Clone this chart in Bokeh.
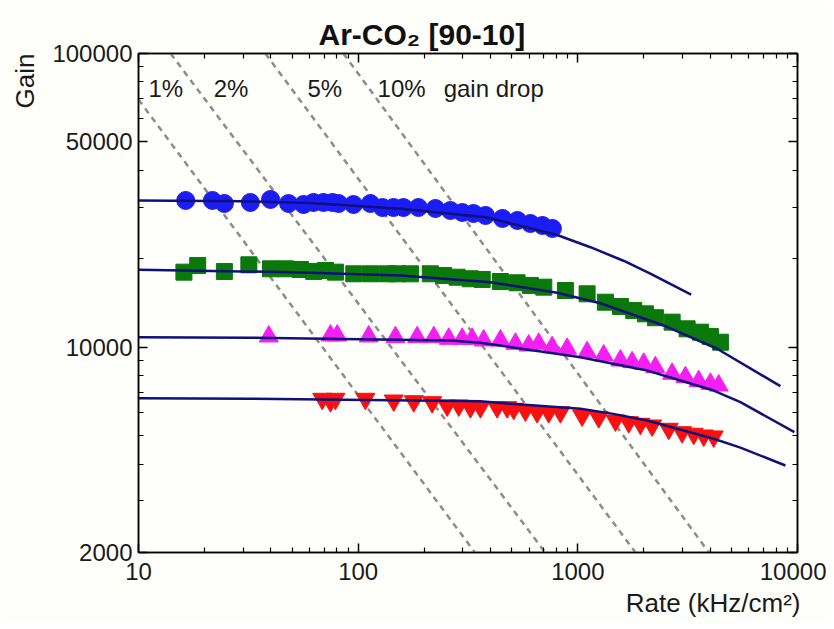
from bokeh.plotting import figure
from bokeh.models import LogAxis, FixedTicker, PrintfTickFormatter, Label, Range1d, Title
from bokeh.embed import file_html
from bokeh.resources import INLINE

FONT = "Liberation Sans"
BG = "#fefefb"

# ---------------- data ----------------
rate_ticks = [10, 100, 1000, 10000]
rate_minor = [20, 30, 40, 50, 60, 70, 80, 90, 200, 300, 400, 500, 600, 700, 800, 900,
              2000, 3000, 4000, 5000, 6000, 7000, 8000, 9000]
gain_ticks = [2000, 10000, 50000, 100000]
gain_minor = [3000, 4000, 5000, 6000, 7000, 8000, 9000, 20000, 30000, 40000,
              60000, 70000, 80000, 90000]

blue_rate = [16.4, 21.7, 24.6, 32.3, 39.9, 48.2, 56.4, 62.6, 69.5, 76.4, 81.4, 95.2, 113.7,
             129, 144.8, 160.8, 188, 224.8, 263, 298, 335, 380, 454, 531, 608, 690, 766]
blue_gain = [31600, 31600, 30850, 31100, 31840, 30850, 30610, 31100, 31100, 31100, 30850, 30610, 30850,
             29900, 29900, 29900, 29900, 29670, 29210, 28750, 28530, 28090, 27440, 27010, 26380, 25970, 25370]

green_rate = [16.1, 18.6, 24.6, 31.8, 39.9, 46.7, 54.6, 62.8, 71.0, 78.8, 95.5, 113.8, 135.5, 150.5,
              173, 213, 245, 282, 324, 367, 444, 529, 608, 700, 878, 1102, 1335, 1563, 1797, 2031,
              2255, 2687, 3144, 3614, 4013, 4458]
green_gain = [18010, 18980, 18110, 19080, 18490, 18490, 18390, 18110, 18250, 18010, 17780, 17780, 17780,
              17780, 17780, 17780, 17540, 17310, 17100, 17010, 16740, 16570, 16230, 16010, 15600, 15200,
              14230, 13760, 13340, 12990, 12600, 12170, 11550, 11250, 10880, 10400]

magenta_rate = [39.2, 74.8, 80.3, 111.7, 147.8, 185.6, 220.9, 258.4, 297.5, 330.2, 372.9, 444.4, 520,
                597.6, 663.7, 763.8, 894, 1102, 1312, 1563, 1767, 1995, 2255, 2687, 3089, 3550, 4013, 4379]
magenta_gain = [10880, 10960, 10960, 10880, 10820, 10820, 10820, 10680, 10680, 10680, 10540, 10540, 10270,
                10130, 10270, 10000, 9876, 9616, 9371, 9010, 8892, 8782, 8551, 8118, 7906, 7662, 7506, 7406]

red_rate = [68.6, 74.8, 78.8, 107.9, 145.2, 179.1, 217.2, 254.1, 287.1, 324.4, 360.3, 429.3, 476.7,
            510.7, 577.3, 652.7, 737.1, 833.3, 1046, 1245, 1483, 1705, 1927, 2179, 2593, 2983, 3370,
            3743, 4155]
red_gain = [6674, 6550, 6674, 6674, 6585, 6550, 6499, 6333, 6333, 6249, 6249, 6249, 6249,
            6171, 6088, 6009, 6009, 6009, 5855, 5777, 5630, 5556, 5487, 5414, 5276, 5136, 5073,
            5006, 4967]

# fitted curves
blue_fit_rate = [10, 30, 60, 156, 380, 805, 1141, 1613, 2138, 3280]
blue_fit_gain = [31600, 31400, 31000, 29600, 27700, 24100, 21900, 19700, 17800, 15100]
green_fit_rate = [10, 50, 156, 400, 805, 1267, 2460, 4305, 8360]
green_fit_gain = [18350, 18000, 17540, 16650, 15320, 14120, 11860, 9880, 7370]
magenta_fit_rate = [10, 32.3, 263, 360, 1028, 2068, 4155, 5497, 9680]
magenta_fit_gain = [10820, 10770, 10540, 10350, 9250, 8330, 7120, 6500, 5140]
red_fit_rate = [10, 32.3, 360, 494, 1028, 1450, 2068, 4155, 5497, 8809]
red_fit_gain = [6705, 6674, 6550, 6418, 6171, 5930, 5630, 4878, 4550, 3957]

# constant gain-drop lines (gain x rate = const)
drop_labels = ["1%", "2%", "5%", "10%"]
drop_rate = [[10, 340], [14.0, 710], [37.8, 1830], [85.7, 3950]]
drop_gain = [[69700, 2000], [100000, 2000], [100000, 2000], [100000, 2000]]
drop_label_rate = [11.1, 22.0, 58.8, 122.6]
drop_text_rate = 245
drop_text_gain = 76000

# ---------------- figure ----------------
p = figure(x_axis_type="log", y_axis_type="log",
           x_range=Range1d(10, 10000), y_range=Range1d(2000, 100000),
           frame_width=659, frame_height=499,
           min_border_left=138, min_border_right=29, min_border_top=53, min_border_bottom=69,
           output_backend="svg", toolbar_location=None,
           background_fill_color=BG, border_fill_color=BG)
p.grid.visible = False
p.outline_line_color = "black"
p.outline_line_width = 1.5


def style(ax, ticks, minor, labels=True, standoff=7):
    ax.ticker = FixedTicker(ticks=ticks, minor_ticks=minor)
    ax.formatter = PrintfTickFormatter(format="%d")
    ax.major_tick_in = 9
    ax.major_tick_out = 0
    ax.minor_tick_in = 5
    ax.minor_tick_out = 0
    ax.axis_line_color = "black"
    ax.axis_line_width = 1.5
    ax.major_tick_line_color = "black"
    ax.major_tick_line_width = 1.5
    ax.minor_tick_line_color = "black"
    ax.minor_tick_line_width = 1.2
    ax.major_label_text_font = FONT
    if labels:
        ax.major_label_text_font_size = "24px"
        ax.major_label_text_color = "#1a1a1a"
        ax.major_label_standoff = standoff
    else:
        ax.major_label_text_font_size = "1px"
        ax.major_label_text_color = None
        ax.major_label_standoff = 0


style(p.xaxis[0], rate_ticks, rate_minor, standoff=10)
style(p.yaxis[0], gain_ticks, gain_minor, standoff=6)
ax_r = LogAxis()
style(ax_r, gain_ticks, gain_minor, labels=False)
p.add_layout(ax_r, "right")
ax_t = LogAxis()
style(ax_t, rate_ticks, rate_minor, labels=False)
p.add_layout(ax_t, "above")

# titles
p.add_layout(Title(text="Ar-CO₂ [90-10]", align="left", offset=180, standoff=6,
                   text_font=FONT, text_font_size="30px", text_font_style="bold",
                   text_color="#111111"), "above")
p.add_layout(Title(text="Gain", align="right", vertical_align="top", offset=0, standoff=15,
                   text_font=FONT, text_font_size="26px", text_font_style="normal",
                   text_color="#1a1a1a"), "left")
p.add_layout(Title(text="Rate (kHz/cm²)", align="right", offset=-3, standoff=6,
                   text_font=FONT, text_font_size="26px", text_font_style="normal",
                   text_color="#1a1a1a"), "below")

# dashed gain-drop lines
for r, g in zip(drop_rate, drop_gain):
    p.line(r, g, line_color="#8c8c8c", line_width=2.5, line_dash="6 5")

# data
fit_color = "#10107a"
p.scatter(blue_rate, blue_gain, marker="circle", size=18, fill_color="#1c1cf5", line_color="#1c1cf5")
p.scatter(green_rate, green_gain, marker="square", size=16, fill_color="#0b780b", line_color="#0b780b")
p.scatter(magenta_rate, magenta_gain, marker="triangle", size=19, fill_color="#f51ef5", line_color="#f51ef5")
p.scatter(red_rate, red_gain, marker="inverted_triangle", size=19, fill_color="#fa1010", line_color="#fa1010")

# fits on top
for r, g in [(blue_fit_rate, blue_fit_gain), (green_fit_rate, green_fit_gain),
             (magenta_fit_rate, magenta_fit_gain), (red_fit_rate, red_fit_gain)]:
    p.line(r, g, line_color=fit_color, line_width=2.5)

# gain-drop labels
for txt, xr in zip(drop_labels, drop_label_rate):
    p.add_layout(Label(x=xr, y=drop_text_gain, text=txt, text_font=FONT, text_font_size="24px",
                       text_align="left", text_baseline="middle", text_color="#1a1a1a"))
p.add_layout(Label(x=drop_text_rate, y=drop_text_gain, text="gain drop", text_font=FONT,
                   text_font_size="24px", text_align="left", text_baseline="middle", text_color="#1a1a1a"))

open("out.html", "w").write(file_html(p, INLINE))
